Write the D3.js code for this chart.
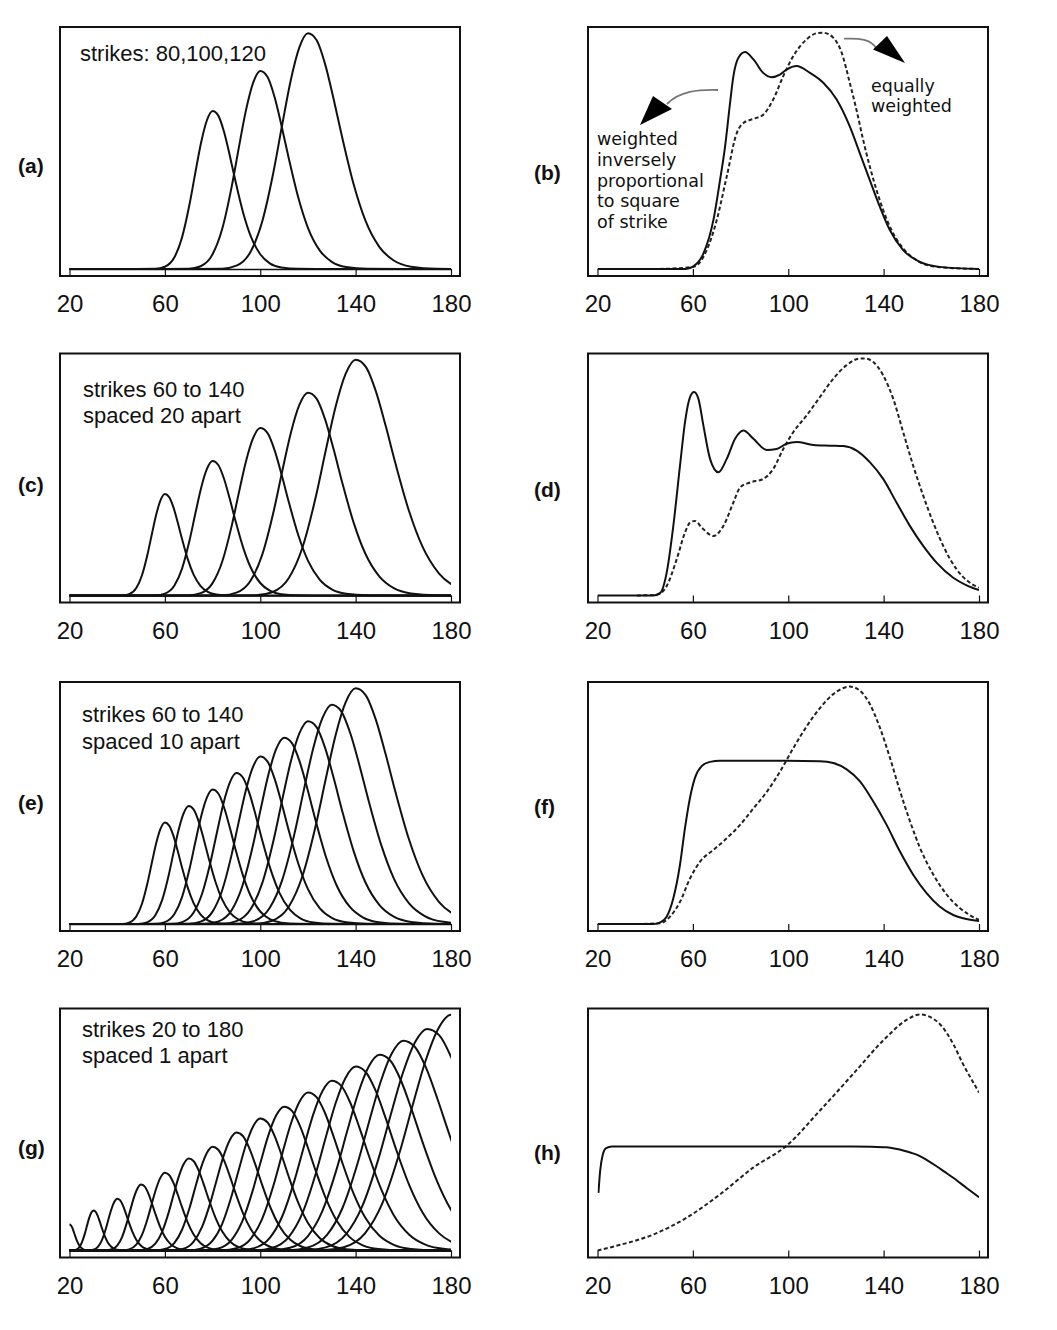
<!DOCTYPE html>
<html lang="en">
<head>
<meta charset="UTF-8">
<title>Vega of single strikes and of strike portfolios</title>
<script src="https://d3js.org/d3.v7.min.js"></script>
<style>
  body { margin: 0; background: #fff; }
  text { font-family: "Liberation Sans", Arial, sans-serif; fill: #111; }
</style>
</head>
<body>
<script>
  // x axis ticks (stock price)
  const tickValues = [20, 60, 100, 140, 180];

  // shape of one option curve: stock/strike ratio -> fraction of the peak
  const profileRatio = [0.60, 0.70, 0.75, 0.80, 0.84, 0.88, 0.91, 0.94, 0.97, 1.00, 1.03,
    1.06, 1.09, 1.12, 1.16, 1.20, 1.25, 1.30, 1.36, 1.45, 1.60];
  const profileLevel = [0, 0.001, 0.014, 0.074, 0.200, 0.414, 0.611, 0.800, 0.939, 0.999, 0.970,
    0.868, 0.719, 0.556, 0.358, 0.208, 0.093, 0.036, 0.010, 0.001, 0];

  // left column: strikes and the peak height of each curve (0-100 of panel)
  const strikesA = [80, 100, 120];
  const peaksA = [67, 84, 100];
  const strikesC = [60, 80, 100, 120, 140];
  const peaksC = [43, 57, 71, 86, 100];
  const strikesE = [60, 70, 80, 90, 100, 110, 120, 130, 140];
  const peaksE = [43, 50, 57, 64, 71, 79, 86, 93, 100];
  const strikesG = [20, 30, 40, 50, 60, 70, 80, 90, 100, 110, 120, 130, 140, 150, 160, 170, 180];
  const peaksG = [11, 17, 22, 28, 33, 39, 44, 50, 56, 61, 67, 72, 78, 83, 89, 94, 100];

  // right column: summed curves, [stock price, level]
  const bSolid = [[20, 0], [57, 0], [60.2, 1.1], [64.4, 6.5], [68.6, 20.7], [71.4, 37.7], [73.5, 51.9],
    [75.6, 70.4], [77.0, 81.7], [79.1, 89.5], [81.9, 91.9], [85.4, 88.8], [89.5, 83.1], [93.0, 81.3],
    [96.5, 82.4], [99.3, 84.5], [103.5, 86.0], [109.1, 83.1], [114.7, 78.9], [120.3, 71.8], [125.8, 60.4],
    [130.0, 49.1], [134.2, 37.7], [138.4, 26.4], [142.6, 16.5], [148.2, 8.0], [155.2, 3.0], [163.5, 0.9], [180, 0]];
  const bDashed = [[46, 0], [60.2, 0.9], [65.8, 8.0], [70.0, 20.7], [74.2, 39.2], [78.4, 57.6], [81.2, 61.9],
    [85.4, 63.6], [89.5, 65.4], [93.7, 71.8], [97.9, 81.7], [102.1, 90.2], [107.7, 97.3], [111.9, 99.9],
    [114.7, 100.1], [118.9, 98.0], [122.4, 91.7], [125.8, 78.9], [128.6, 67.5], [131.4, 54.8], [134.2, 43.4],
    [137.0, 33.5], [139.8, 25.0], [143.3, 16.5], [148.2, 8.7], [153.8, 3.7], [162.2, 0.9], [180, 0]];
  const dSolid = [[20, 0], [43.5, 0], [46.3, 1.1], [49.0, 9.6], [51.8, 29.5], [54.6, 55.0], [56.7, 73.5],
    [58.8, 84.1], [60.5, 86.2], [62.3, 83.4], [64.4, 72.1], [67.2, 57.9], [70.7, 52.2], [74.2, 57.9],
    [77.7, 66.4], [81.2, 69.9], [85.4, 66.4], [90.9, 61.7], [95.1, 62.1], [99.3, 64.3], [103.5, 65.0],
    [110.5, 63.8], [117.5, 63.5], [123.1, 63.3], [128.7, 61.4], [134.2, 56.5], [139.8, 49.4], [145.4, 39.4],
    [151.0, 29.5], [156.6, 21.0], [162.2, 13.9], [169.2, 7.5], [174.8, 4.3], [180, 2.3]];
  const dDashed = [[36.5, 0], [44.9, 0.3], [49.0, 4.0], [53.2, 15.3], [56.7, 26.7], [58.8, 30.9], [60.9, 31.6],
    [63.7, 28.8], [68.6, 25.2], [72.8, 29.5], [77.0, 39.4], [79.8, 45.8], [84.0, 47.9], [89.5, 49.4],
    [93.7, 53.6], [97.9, 62.1], [102.1, 69.2], [107.7, 76.3], [113.3, 84.1], [118.9, 91.9], [124.5, 97.6],
    [130.0, 100.4], [132.1, 100.4], [135.6, 99.0], [139.8, 93.3], [144.0, 83.4], [148.2, 69.2], [152.4, 55.0],
    [156.6, 42.3], [160.8, 30.9], [165.0, 21.0], [170.6, 11.1], [174.8, 6.5], [180, 3.3]];
  const fSolid = [[20, 0], [43.5, 0], [46.3, 0.7], [49.0, 3.1], [51.8, 10.9], [54.6, 25.1], [56.7, 40.7],
    [58.8, 53.5], [60.9, 62.0], [63.7, 66.9], [67.2, 68.7], [71.4, 69.2], [85.4, 69.2], [99.3, 69.2],
    [113.3, 69.0], [118.9, 68.2], [124.5, 65.5], [130.0, 60.5], [135.6, 52.0], [141.2, 42.1], [146.8, 30.8],
    [152.4, 20.9], [158.0, 13.1], [163.5, 7.4], [169.2, 3.8], [174.8, 2.1], [180, 1.3]];
  const fDashed = [[36.5, 0], [46.3, 0.3], [50.4, 3.1], [54.6, 9.4], [58.8, 19.3], [63.0, 26.4], [68.6, 31.4],
    [74.2, 36.3], [79.8, 42.0], [85.4, 49.0], [91.0, 56.0], [96.5, 64.5], [102.1, 74.5], [107.7, 83.7],
    [113.3, 91.5], [118.9, 97.4], [123.1, 100.0], [125.8, 100.6], [130.0, 98.9], [134.2, 93.2], [138.4, 83.3],
    [142.6, 70.6], [146.8, 56.5], [151.0, 43.7], [155.2, 32.4], [160.8, 21.0], [166.4, 12.5], [171.9, 6.8],
    [176.1, 3.8], [180, 1.7]];
  const hSolid = [[20.4, 24.4], [21.1, 33.6], [22.2, 40.6], [23.6, 43.4], [26.0, 44.1], [32.3, 44.1],
    [113.3, 44.1], [127.0, 44.1], [135.0, 44.0], [141.2, 43.7], [145.0, 43.1], [148.2, 42.4], [151.5, 41.4],
    [155.2, 40.0], [158.5, 38.1], [162.2, 35.7], [165.5, 33.4], [169.2, 30.8], [174.8, 26.5], [180, 22.6]];
  const hDashed = [[20, 0], [29.5, 2.4], [43.5, 6.8], [57.4, 13.9], [71.4, 23.8], [85.4, 35.2], [99.3, 44.4],
    [113.3, 59.3], [127.2, 74.8], [141.2, 90.4], [149.6, 97.7], [155.2, 100.0], [160.8, 98.2], [163.5, 96.0],
    [169.2, 87.5], [173.3, 79.0], [176.8, 72.6], [180, 67.0]];

  const panels = [
    { id: 'a', col: 0, row: 0, strikes: strikesA, peaks: peaksA, note: ['strikes: 80,100,120'], noteX: 20, noteY: 34, letterY: 138 },
    { id: 'b', col: 1, row: 0, solid: bSolid, dashed: bDashed, letterY: 145 },
    { id: 'c', col: 0, row: 1, strikes: strikesC, peaks: peaksC, note: ['strikes 60 to 140', 'spaced 20 apart'], noteX: 23, noteY: 43, letterY: 131 },
    { id: 'd', col: 1, row: 1, solid: dSolid, dashed: dDashed, letterY: 136 },
    { id: 'e', col: 0, row: 2, strikes: strikesE, peaks: peaksE, note: ['strikes 60 to 140', 'spaced 10 apart'], noteX: 22, noteY: 40, letterY: 120 },
    { id: 'f', col: 1, row: 2, solid: fSolid, dashed: fDashed, letterY: 124 },
    { id: 'g', col: 0, row: 3, strikes: strikesG, peaks: peaksG, note: ['strikes 20 to 180', 'spaced 1 apart'], noteX: 22, noteY: 28, letterY: 139 },
    { id: 'h', col: 1, row: 3, solid: hSolid, dashed: hDashed, letterY: 144 }
  ];

  const frameW = 400, frameH = 249;
  const colLeft = [60, 588];
  const rowTop = [27, 353.5, 682, 1008.5];
  const letterLeft = [18, 534];

  const x = d3.scaleLinear().domain([20, 180]).range([9.5, 391]);
  const y = d3.scaleLinear().domain([0, 100]).range([242, 6]);

  const line = d3.line()
    .x(d => x(d[0]))
    .y(d => y(d[1]))
    .curve(d3.curveMonotoneX);

  const svg = d3.select('body')
    .append('svg')
    .attr('width', 1057)
    .attr('height', 1330);

  panels.forEach(p => {
    const g = svg.append('g')
      .attr('transform', `translate(${colLeft[p.col]},${rowTop[p.row]})`);

    g.append('clipPath')
      .attr('id', 'clip-' + p.id)
      .append('rect')
      .attr('x', x(20))
      .attr('y', 0)
      .attr('width', x(180) - x(20))
      .attr('height', frameH);

    // axis on the zero line, ticks hang down to the frame
    const axis = g.append('g')
      .attr('transform', `translate(0,${y(0)})`)
      .call(d3.axisBottom(x).tickValues(tickValues).tickSize(7).tickSizeOuter(0).tickPadding(19));
    axis.select('.domain')
      .attr('stroke', p.strikes ? '#111' : 'none')
      .attr('stroke-width', 1.5);
    axis.selectAll('.tick line').attr('stroke', '#111').attr('stroke-width', 1.2);
    axis.selectAll('.tick text')
      .attr('font-size', 24)
      .attr('font-family', '"Liberation Sans", Arial, sans-serif')
      .attr('fill', '#111');

    const curves = g.append('g').attr('clip-path', `url(#clip-${p.id})`);

    if (p.strikes) {
      const series = p.strikes.map((k, i) =>
        [[0, 0]].concat(profileRatio.map((r, j) => [k * r, p.peaks[i] * profileLevel[j]]), [[320, 0]]));
      curves.selectAll('path')
        .data(series)
        .enter()
        .append('path')
        .attr('d', line)
        .attr('fill', 'none')
        .attr('stroke', '#111')
        .attr('stroke-width', 2);

      const note = g.append('text')
        .attr('x', p.noteX)
        .attr('y', p.noteY)
        .attr('font-size', 22);
      note.selectAll('tspan')
        .data(p.note)
        .enter()
        .append('tspan')
        .attr('x', p.noteX)
        .attr('dy', (d, i) => i === 0 ? 0 : 26.5)
        .text(d => d);
    } else {
      curves.append('path')
        .attr('d', line(p.dashed))
        .attr('fill', 'none')
        .attr('stroke', '#222')
        .attr('stroke-width', 2)
        .attr('stroke-dasharray', '4,2.5');
      curves.append('path')
        .attr('d', line(p.solid))
        .attr('fill', 'none')
        .attr('stroke', '#111')
        .attr('stroke-width', 2);
    }

    g.append('rect')
      .attr('width', frameW)
      .attr('height', frameH)
      .attr('fill', 'none')
      .attr('stroke', '#111')
      .attr('stroke-width', 2);

    svg.append('text')
      .attr('x', letterLeft[p.col])
      .attr('y', rowTop[p.row] + p.letterY)
      .attr('dominant-baseline', 'central')
      .attr('font-size', 21)
      .attr('font-weight', 'bold')
      .text(`(${p.id})`);
  });

  // annotations in panel (b)
  const wideFont = '"DejaVu Sans", Verdana, sans-serif';
  const leftNote = svg.append('text')
    .attr('x', 597)
    .attr('y', 145)
    .attr('font-size', 17.5)
    .attr('font-family', wideFont);
  leftNote.selectAll('tspan')
    .data(['weighted', 'inversely', 'proportional', 'to square', 'of strike'])
    .enter()
    .append('tspan')
    .attr('x', 597)
    .attr('dy', (d, i) => i === 0 ? 0 : 20.8)
    .style('font-family', wideFont)
    .text(d => d);

  const rightNote = svg.append('text')
    .attr('x', 871)
    .attr('y', 92)
    .attr('font-size', 17.5)
    .attr('font-family', wideFont);
  rightNote.selectAll('tspan')
    .data(['equally', 'weighted'])
    .enter()
    .append('tspan')
    .attr('x', 871)
    .attr('dy', (d, i) => i === 0 ? 0 : 20)
    .style('font-family', wideFont)
    .text(d => d);

  // arrows
  svg.append('path')
    .attr('d', 'M718,90 C698,89.5 680,91 667,104')
    .attr('fill', 'none')
    .attr('stroke', '#777')
    .attr('stroke-width', 1.8);
  svg.append('path')
    .attr('d', 'M653,96 L672,109 L640,125 Z')
    .attr('fill', '#000');
  svg.append('path')
    .attr('d', 'M844,38.7 C860,38 871,39.5 876,48')
    .attr('fill', 'none')
    .attr('stroke', '#777')
    .attr('stroke-width', 1.8);
  svg.append('path')
    .attr('d', 'M873,49.5 L887,36 L905,63 Z')
    .attr('fill', '#000');
</script>
</body>
</html>
